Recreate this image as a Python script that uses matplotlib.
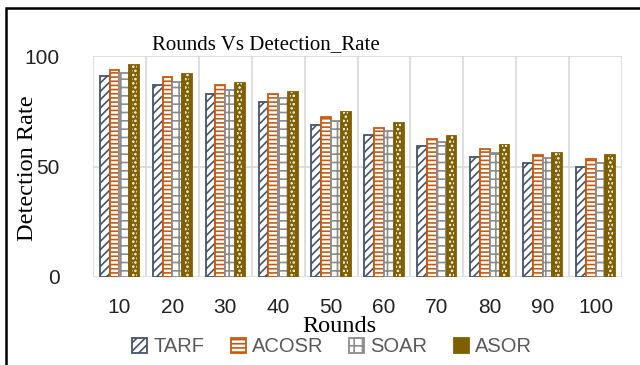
import numpy as np
import matplotlib
matplotlib.use('Agg')
import matplotlib.pyplot as plt
from matplotlib.patches import Patch, Rectangle

rounds = ['10', '20', '30', '40', '50', '60', '70', '80', '90', '100']
tarf = [91, 87, 82.7, 79, 69, 64.3, 59.3, 54.4, 51.7, 49.9]
acosr = [93.7, 90.3, 86.7, 82.7, 72.6, 67.4, 62.6, 58.1, 55.2, 53.4]
soar = [92.4, 88.4, 84.4, 80.8, 70.8, 66.2, 61, 56.3, 53.8, 51.6]
asor = [96, 92, 88, 83.9, 74.8, 69.8, 63.8, 59.7, 56.2, 55.2]

serif = 'Liberation Serif'
sans = 'Liberation Sans'
plt.rcParams['hatch.linewidth'] = 1.2

fig = plt.figure(figsize=(6.4, 3.65), dpi=100)
ax = fig.add_axes([93/640, 1-277/365, (622-93)/640, (277-56)/365])

x = np.arange(len(rounds))
w = 0.185
navy = '#44546A'
orange = '#C55A11'
grey = '#8C8C8C'
gold = '#7F6000'

ax.bar(x - 1.5*w, tarf, w, facecolor='white', edgecolor=navy, hatch='////', lw=1.3, zorder=3)
ax.bar(x - 0.5*w, acosr, w, facecolor='white', edgecolor=orange, hatch='----', lw=1.3, zorder=3)
ax.bar(x + 0.5*w, soar, w, facecolor='white', edgecolor=grey, hatch='++', lw=1.3, zorder=3)
ax.bar(x + 1.5*w, asor, w, facecolor=gold, edgecolor=gold, lw=1.3, zorder=3)
# white dots over the gold bars
ax.bar(x + 1.5*w, asor, w * 0.5, facecolor='none', edgecolor='white', hatch='....', lw=0, zorder=4)

ax.set_xlim(-0.5, len(rounds) - 0.5)
ax.set_ylim(0, 100)
ax.set_yticks([0, 50, 100])
ax.set_xticks(x)
ax.set_xticklabels(rounds)
for s in ax.spines.values():
    s.set_visible(False)
ax.tick_params(length=0, labelsize=15, colors='#222222')
ax.tick_params(axis='y', pad=24)
ax.tick_params(axis='x', pad=15)
for lab in ax.get_xticklabels() + ax.get_yticklabels():
    lab.set_fontfamily(sans)
for yv in [0, 50, 100]:
    ax.axhline(yv, color='#D9D9D9', lw=1.2, zorder=1)
for xv in np.arange(-0.5, len(rounds), 1):
    ax.axvline(xv, color='#D9D9D9', lw=1.2, zorder=1)

fig.text(266/640, 1-45/365, 'Rounds Vs Detection_Rate', family=serif, fontsize=15,
         ha='center', va='center')
fig.text(28/640, 1-168/365, 'Detection Rate', family=serif, fontsize=17.5,
         rotation=90, ha='center', va='center')
fig.text(339/640, 1-326/365, 'Rounds', family=serif, fontsize=17.5,
         ha='center', va='center')

handles = [
    Patch(facecolor='white', edgecolor=navy, hatch='////', lw=1.3, label='TARF'),
    Patch(facecolor='white', edgecolor=orange, hatch='----', lw=1.3, label='ACOSR'),
    Patch(facecolor='white', edgecolor=grey, hatch='++', lw=1.3, label='SOAR'),
    Patch(facecolor=gold, edgecolor=gold, lw=1.3, label='ASOR'),
]
fig.legend(handles=handles, loc='center', bbox_to_anchor=(332/640, 1-347/365), ncol=4,
           frameon=False, prop={'family': sans, 'size': 14.5}, labelcolor='#595959',
           handlelength=0.75, handleheight=0.75, handletextpad=0.3, columnspacing=1.3,
           borderpad=0)

fig.add_artist(Rectangle((6/640, -0.1), 1.2, 1.1 - 8/365, transform=fig.transFigure,
                         fill=False, edgecolor='black', lw=1.8))

fig.savefig('out.png', dpi=100)
